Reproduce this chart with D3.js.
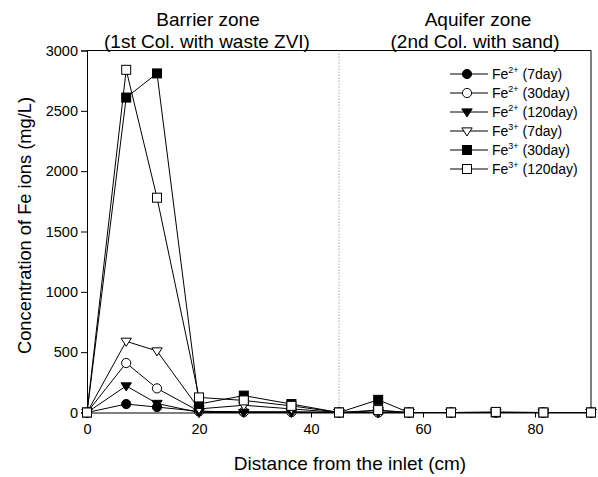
<!DOCTYPE html>
<html>
<head>
<meta charset="utf-8">
<script src="https://cdn.jsdelivr.net/npm/d3@7"></script>
<style>
  body { margin: 0; background: #fff; }
  svg { display: block; font-family: "Liberation Sans", Arial, sans-serif; }
</style>
</head>
<body>
<svg id="chart" width="598" height="477"></svg>
<script>
// Distance along the two columns (cm)
const distances = [0, 7, 12.5, 20, 28, 36.5, 45, 52, 57.5, 65, 73, 81.5, 90];

// Fe ion concentrations (mg/L) at each distance
const fe2Day7   = [0, 70, 45, 10, 5, 5, 0, 0, 0, 0, 0, 0, 0];
const fe2Day30  = [0, 410, 200, 10, 5, 5, 0, 0, 0, 0, 0, 0, 0];
const fe2Day120 = [0, 220, 75, 0, 0, 0, 0, 0, 0, 0, 0, 0, 0];
const fe3Day7   = [0, 590, 510, 30, 60, 30, 0, 15, 0, 0, 0, 0, 0];
const fe3Day30  = [0, 2610, 2810, 70, 140, 70, 0, 105, 0, 0, 0, 0, 0];
const fe3Day120 = [0, 2840, 1780, 125, 100, 55, 0, 20, 0, 0, 5, 0, 0];

const seriesNames = ["(7day)", "(30day)", "(120day)", "(7day)", "(30day)", "(120day)"];
const seriesIons = ["2+", "2+", "2+", "3+", "3+", "3+"];
const seriesValues = [fe2Day7, fe2Day30, fe2Day120, fe3Day7, fe3Day30, fe3Day120];
const seriesShapes = ["circle", "circle", "triangle", "triangle", "square", "square"];
const seriesFilled = [true, false, true, false, true, false];

const xTicks = [0, 20, 40, 60, 80];
const yTicks = [0, 500, 1000, 1500, 2000, 2500, 3000];
const zoneBoundary = 45;

const W = 598, H = 477;
const margin = { left: 87, right: 7, top: 50.5, bottom: 64.5 };
const svg = d3.select("#chart");

const x = d3.scaleLinear().domain([0, 90]).range([margin.left, W - margin.right]);
const y = d3.scaleLinear().domain([0, 3000]).range([H - margin.bottom, margin.top]);

// Frame (top and right edges)
svg.append("path")
  .attr("d", `M${x(0)},${y(3000)}H${x(90)}V${y(0)}`)
  .attr("fill", "none").attr("stroke", "#000").attr("stroke-width", 1);

// Zone divider
svg.append("line")
  .attr("x1", x(zoneBoundary)).attr("x2", x(zoneBoundary))
  .attr("y1", y(3000)).attr("y2", y(0))
  .attr("stroke", "#aaa").attr("stroke-width", 1).attr("stroke-dasharray", "1.5,1.5");

// Axes
const xAxis = svg.append("g").attr("transform", `translate(0,${y(0)})`)
  .call(d3.axisBottom(x).tickValues(xTicks).tickSize(5).tickPadding(6));
const yAxis = svg.append("g").attr("transform", `translate(${x(0)},0)`)
  .call(d3.axisLeft(y).tickValues(yTicks).tickFormat(d3.format("d")).tickSize(6).tickPadding(3));
[xAxis, yAxis].forEach(g => {
  g.selectAll("text").attr("font-size", 14.5).attr("fill", "#000")
    .attr("font-family", "'Liberation Sans', Arial, sans-serif");
  g.selectAll("line,path").attr("stroke", "#000");
});

// Axis titles
svg.append("text").attr("x", 350).attr("y", 470).attr("text-anchor", "middle")
  .attr("font-size", 19).text("Distance from the inlet (cm)");
svg.append("text").attr("transform", `translate(31,${(y(0) + y(3000)) / 2 - 6}) rotate(-90)`)
  .attr("text-anchor", "middle").attr("font-size", 18.3)
  .text("Concentration of Fe ions (mg/L)");

// Zone headings
const headings = [
  { text: "Barrier zone", x: 208, y: 25.5 },
  { text: "(1st Col. with waste ZVI)", x: 207, y: 47.5 },
  { text: "Aquifer zone", x: 478, y: 25.5 },
  { text: "(2nd Col. with sand)", x: 475, y: 47.5 }
];
headings.forEach(h => {
  svg.append("text").attr("x", h.x).attr("y", h.y).attr("text-anchor", "middle")
    .attr("font-size", 19).text(h.text);
});

function drawMarker(g, shape, filled, cx, cy) {
  const fill = filled ? "#000" : "#fff";
  if (shape === "circle") {
    g.append("circle").attr("cx", cx).attr("cy", cy).attr("r", 4.6)
      .attr("fill", fill).attr("stroke", "#000").attr("stroke-width", 1);
  } else if (shape === "square") {
    g.append("rect").attr("x", cx - 4.5).attr("y", cy - 4.5).attr("width", 9).attr("height", 9)
      .attr("fill", fill).attr("stroke", "#000").attr("stroke-width", 1);
  } else {
    // downward-pointing triangle
    const s = 5.2;
    g.append("path")
      .attr("d", `M${cx - s},${cy - s * 0.6}L${cx + s},${cy - s * 0.6}L${cx},${cy + s * 0.95}Z`)
      .attr("fill", fill).attr("stroke", "#000").attr("stroke-width", 1);
  }
}

const line = d3.line().x(d => x(d[0])).y(d => y(d[1]));
const plot = svg.append("g");
seriesValues.forEach((vals, i) => {
  const pts = distances.map((d, j) => [d, vals[j]]);
  const g = plot.append("g");
  g.append("path").datum(pts).attr("d", line)
    .attr("fill", "none").attr("stroke", "#000").attr("stroke-width", 1);
  pts.forEach(p => drawMarker(g, seriesShapes[i], seriesFilled[i], x(p[0]), y(p[1])));
});

// Legend
const legend = svg.append("g");
seriesValues.forEach((vals, i) => {
  const ly = 74 + i * 19;
  legend.append("line").attr("x1", 450).attr("x2", 488).attr("y1", ly).attr("y2", ly)
    .attr("stroke", "#000").attr("stroke-width", 1);
  drawMarker(legend, seriesShapes[i], seriesFilled[i], 467, ly);
  const t = legend.append("text").attr("x", 492).attr("y", ly + 5).attr("font-size", 14);
  t.append("tspan").text("Fe");
  t.append("tspan").attr("font-size", 9).attr("dy", -6).text(seriesIons[i]);
  t.append("tspan").attr("dy", 6).text(" " + seriesNames[i]);
});
</script>
</body>
</html>
